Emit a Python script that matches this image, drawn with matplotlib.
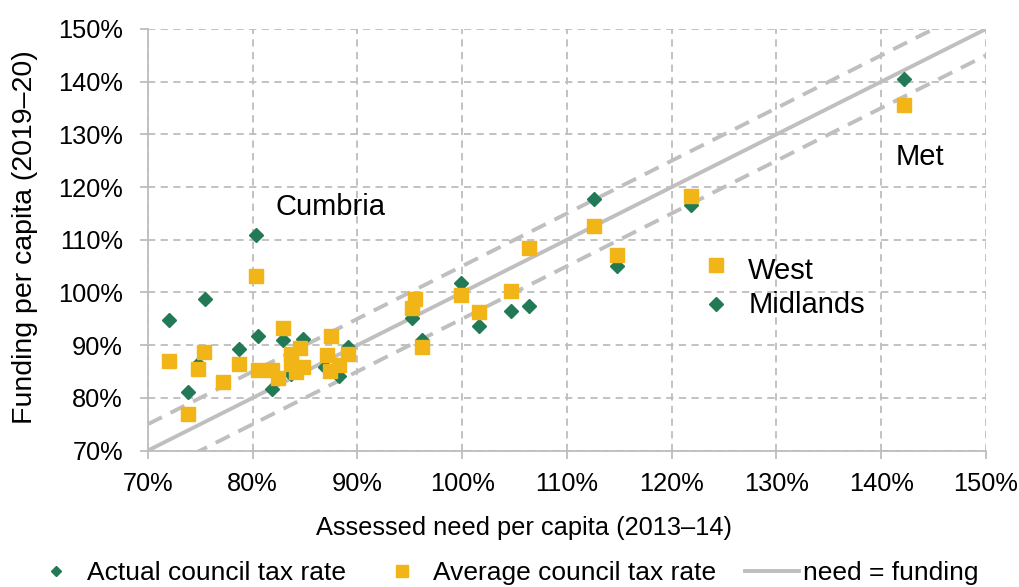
import numpy as np
import matplotlib
matplotlib.use('Agg')
import matplotlib.pyplot as plt
from matplotlib.lines import Line2D

plt.rcParams['font.family'] = ['Liberation Sans', 'DejaVu Sans']

# 数据：评估需求（x）与人均资金（y），单位 %
need_actual = [80.3, 75.4, 72.0, 73.85, 78.7, 80.5, 82.9, 84.8, 81.8, 74.75, 89.1, 88.2, 83.7, 86.9,
               112.6, 114.8, 99.9, 95.2, 96.2, 101.6, 104.7, 106.4,
               121.8, 142.2, 124.2]
fund_actual = [110.9, 98.75, 94.8, 81.15, 89.25, 91.8, 90.97, 91.15, 81.7, 86.5, 89.6, 84.1, 84.6, 85.8,
               117.7, 105.0, 101.7, 95.1, 91.0, 93.7, 96.5, 97.5,
               116.6, 140.6, 97.8]

need_avg = [80.3, 72.0, 75.35, 74.75, 77.2, 78.7, 73.8, 80.5, 81.8, 82.4, 82.9, 83.7, 84.5, 83.7,
            84.8, 84.1, 87.5, 87.1, 88.2, 87.4, 89.1,
            112.6, 114.8, 106.4, 95.5, 95.2, 99.9, 101.6, 104.7, 96.2,
            121.8, 142.2, 124.2]
fund_avg = [103.2, 87.0, 88.7, 85.4, 83.05, 86.5, 76.9, 85.3, 85.3, 83.7, 93.2, 88.4, 89.4, 86.5,
            85.8, 84.95, 91.7, 88.1, 86.2, 85.1, 88.25,
            112.7, 107.2, 108.4, 98.7, 97.0, 99.6, 96.2, 100.3, 89.6,
            118.3, 135.6, 105.3]

band = 5  # 虚线：需求 ±5 个百分点
line_x = [70, 150]

green = '#217a55'
yellow = '#f2b518'
grey = '#bfbfbf'

fig = plt.figure(figsize=(10.19, 5.87), dpi=100)
ax = fig.add_axes([0.1452, 0.2325, 0.8224, 0.7181])

ax.set_xlim(70, 150)
ax.set_ylim(70, 150)
ticks = np.arange(70, 151, 10)
ax.set_xticks(ticks)
ax.set_yticks(ticks)
ax.set_xticklabels([f'{t}%' for t in ticks])
ax.set_yticklabels([f'{t}%' for t in ticks])

ax.grid(True, linestyle=(0, (4, 3)), color='#bdbdbd', linewidth=1.3, zorder=0)
for s in ['top', 'right']:
    ax.spines[s].set_visible(False)
for s in ['left', 'bottom']:
    ax.spines[s].set_color('#bdbdbd')
    ax.spines[s].set_linewidth(1.3)
ax.tick_params(axis='both', colors='#bdbdbd', width=1.3, length=6,
               labelcolor='black', labelsize=18.3)
ax.tick_params(axis='y', pad=12)
ax.tick_params(axis='x', pad=9.6)

# 参考线
ax.plot(line_x, line_x, color=grey, linewidth=2.8, zorder=2)
ax.plot(line_x, [v + band for v in line_x], color=grey, linewidth=2.8,
        linestyle=(0, (4, 2.5)), zorder=2)
ax.plot(line_x, [v - band for v in line_x], color=grey, linewidth=2.8,
        linestyle=(0, (4, 2.5)), zorder=2)

ax.plot(need_actual, fund_actual, linestyle='none', marker='D', markersize=7.2,
        color=green, zorder=3, clip_on=False)
ax.plot(need_avg, fund_avg, linestyle='none', marker='s', markersize=10.5,
        color=yellow, zorder=4, clip_on=False)

ax.text(82.2, 116.3, 'Cumbria', fontsize=21, va='center', ha='left')
ax.text(141.4, 125.7, 'Met', fontsize=21, va='center', ha='left')
ax.text(127.3, 104.0, 'West', fontsize=21, va='center', ha='left')
ax.text(127.3, 97.6, 'Midlands', fontsize=21, va='center', ha='left')

ax.set_xlabel('Assessed need per capita (2013–14)', fontsize=18.3)
ax.xaxis.set_label_coords(0.4487, -0.1839)
ax.xaxis.label.set_va('center')
ax.set_ylabel('Funding per capita (2019–20)', fontsize=20.5)
ax.yaxis.set_label_coords(-0.1468, 0.5072)
ax.yaxis.label.set_va('center')

handles = [
    Line2D([], [], linestyle='none', marker='D', markersize=5.5, color=green),
    Line2D([], [], linestyle='none', marker='s', markersize=8, color=yellow),
    Line2D([], [], color=grey, linewidth=2.8),
]
labels = ['Actual council tax rate', 'Average council tax rate', 'need = funding']
fig.legend(handles, labels, loc='center', bbox_to_anchor=(0.4946, 0.024), ncol=3,
           frameon=False, fontsize=19, handlelength=2.05, handletextpad=0.15,
           columnspacing=1.1, borderpad=0.2)

fig.savefig('out.png', dpi=100)
